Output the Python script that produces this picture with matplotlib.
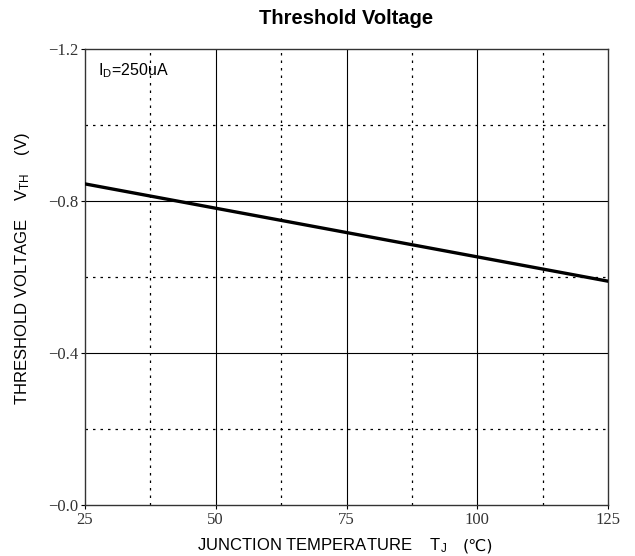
import numpy as np
import matplotlib.pyplot as plt

# junction temperature (C) and threshold voltage (V)
temp = [25, 50, 75, 100, 125]
vth = [-0.845, -0.781, -0.717, -0.653, -0.589]

x_ticks = [25, 50, 75, 100, 125]
x_labels = ["25", "50", "75", "100", "125"]
y_ticks = [0.0, -0.4, -0.8, -1.2]
y_labels = ["\u22120.0", "\u22120.4", "\u22120.8", "\u22121.2"]

sans = ['Liberation Sans', 'DejaVu Sans']
serif = ['Liberation Serif', 'DejaVu Serif']
plt.rcParams['mathtext.fontset'] = 'custom'
plt.rcParams['mathtext.rm'] = 'Liberation Sans'
plt.rcParams['mathtext.it'] = 'Liberation Sans'

fig = plt.figure(figsize=(6.35, 5.56), dpi=100)
ax = fig.add_axes([85 / 635, 51 / 556, 523 / 635, 456 / 556])

# grid: solid at majors, dotted in between
for x in [50, 75, 100]:
    ax.axvline(x, color='black', lw=0.8, zorder=1)
for x in [37.5, 62.5, 87.5, 112.5]:
    ax.axvline(x, color='black', lw=0.9, ls=(0, (2, 4)), zorder=1)
for y in [-0.4, -0.8]:
    ax.axhline(y, color='black', lw=0.8, zorder=1)
for y in [-0.2, -0.6, -1.0]:
    ax.axhline(y, color='black', lw=0.9, ls=(0, (2, 4)), zorder=1)

ax.plot(temp, vth, color='black', lw=2.4, zorder=3)

ax.set_xlim(25, 125)
ax.set_ylim(0.0, -1.2)
ax.set_xticks(x_ticks)
ax.set_xticklabels(x_labels, family=serif, fontsize=12, color='#333333')
ax.set_yticks(y_ticks)
ax.set_yticklabels(y_labels, family=serif, fontsize=12, color='#333333')
ax.tick_params(direction='out', length=3, width=0.8, pad=2)
for s in ax.spines.values():
    s.set_linewidth(1.0)
    s.set_color('#333333')

ax.text(27.5, -1.13, r'I$_\mathregular{D}$=250uA', family=sans, fontsize=11.5)

fig.text(346 / 635, 1 - 18 / 556, 'Threshold Voltage', family=sans, fontsize=14.5,
         fontweight='bold', ha='center', va='center')
fig.text(322 / 635, 1 - 546 / 556,
         'JUNCTION TEMPERATURE    T$_\\mathregular{J}$',
         family=sans, fontsize=12, ha='center', va='center')
fig.text(478 / 635, 1 - 546 / 556, '(\u2103)',
         family=['DejaVu Sans'], fontsize=11.5, ha='center', va='center')
fig.text(23 / 635, 1 - 268 / 556,
         'THRESHOLD VOLTAGE    V$_\\mathregular{TH}$    (V)',
         family=sans, fontsize=12, ha='center', va='center', rotation=90)

plt.savefig('out.png', dpi=100)
